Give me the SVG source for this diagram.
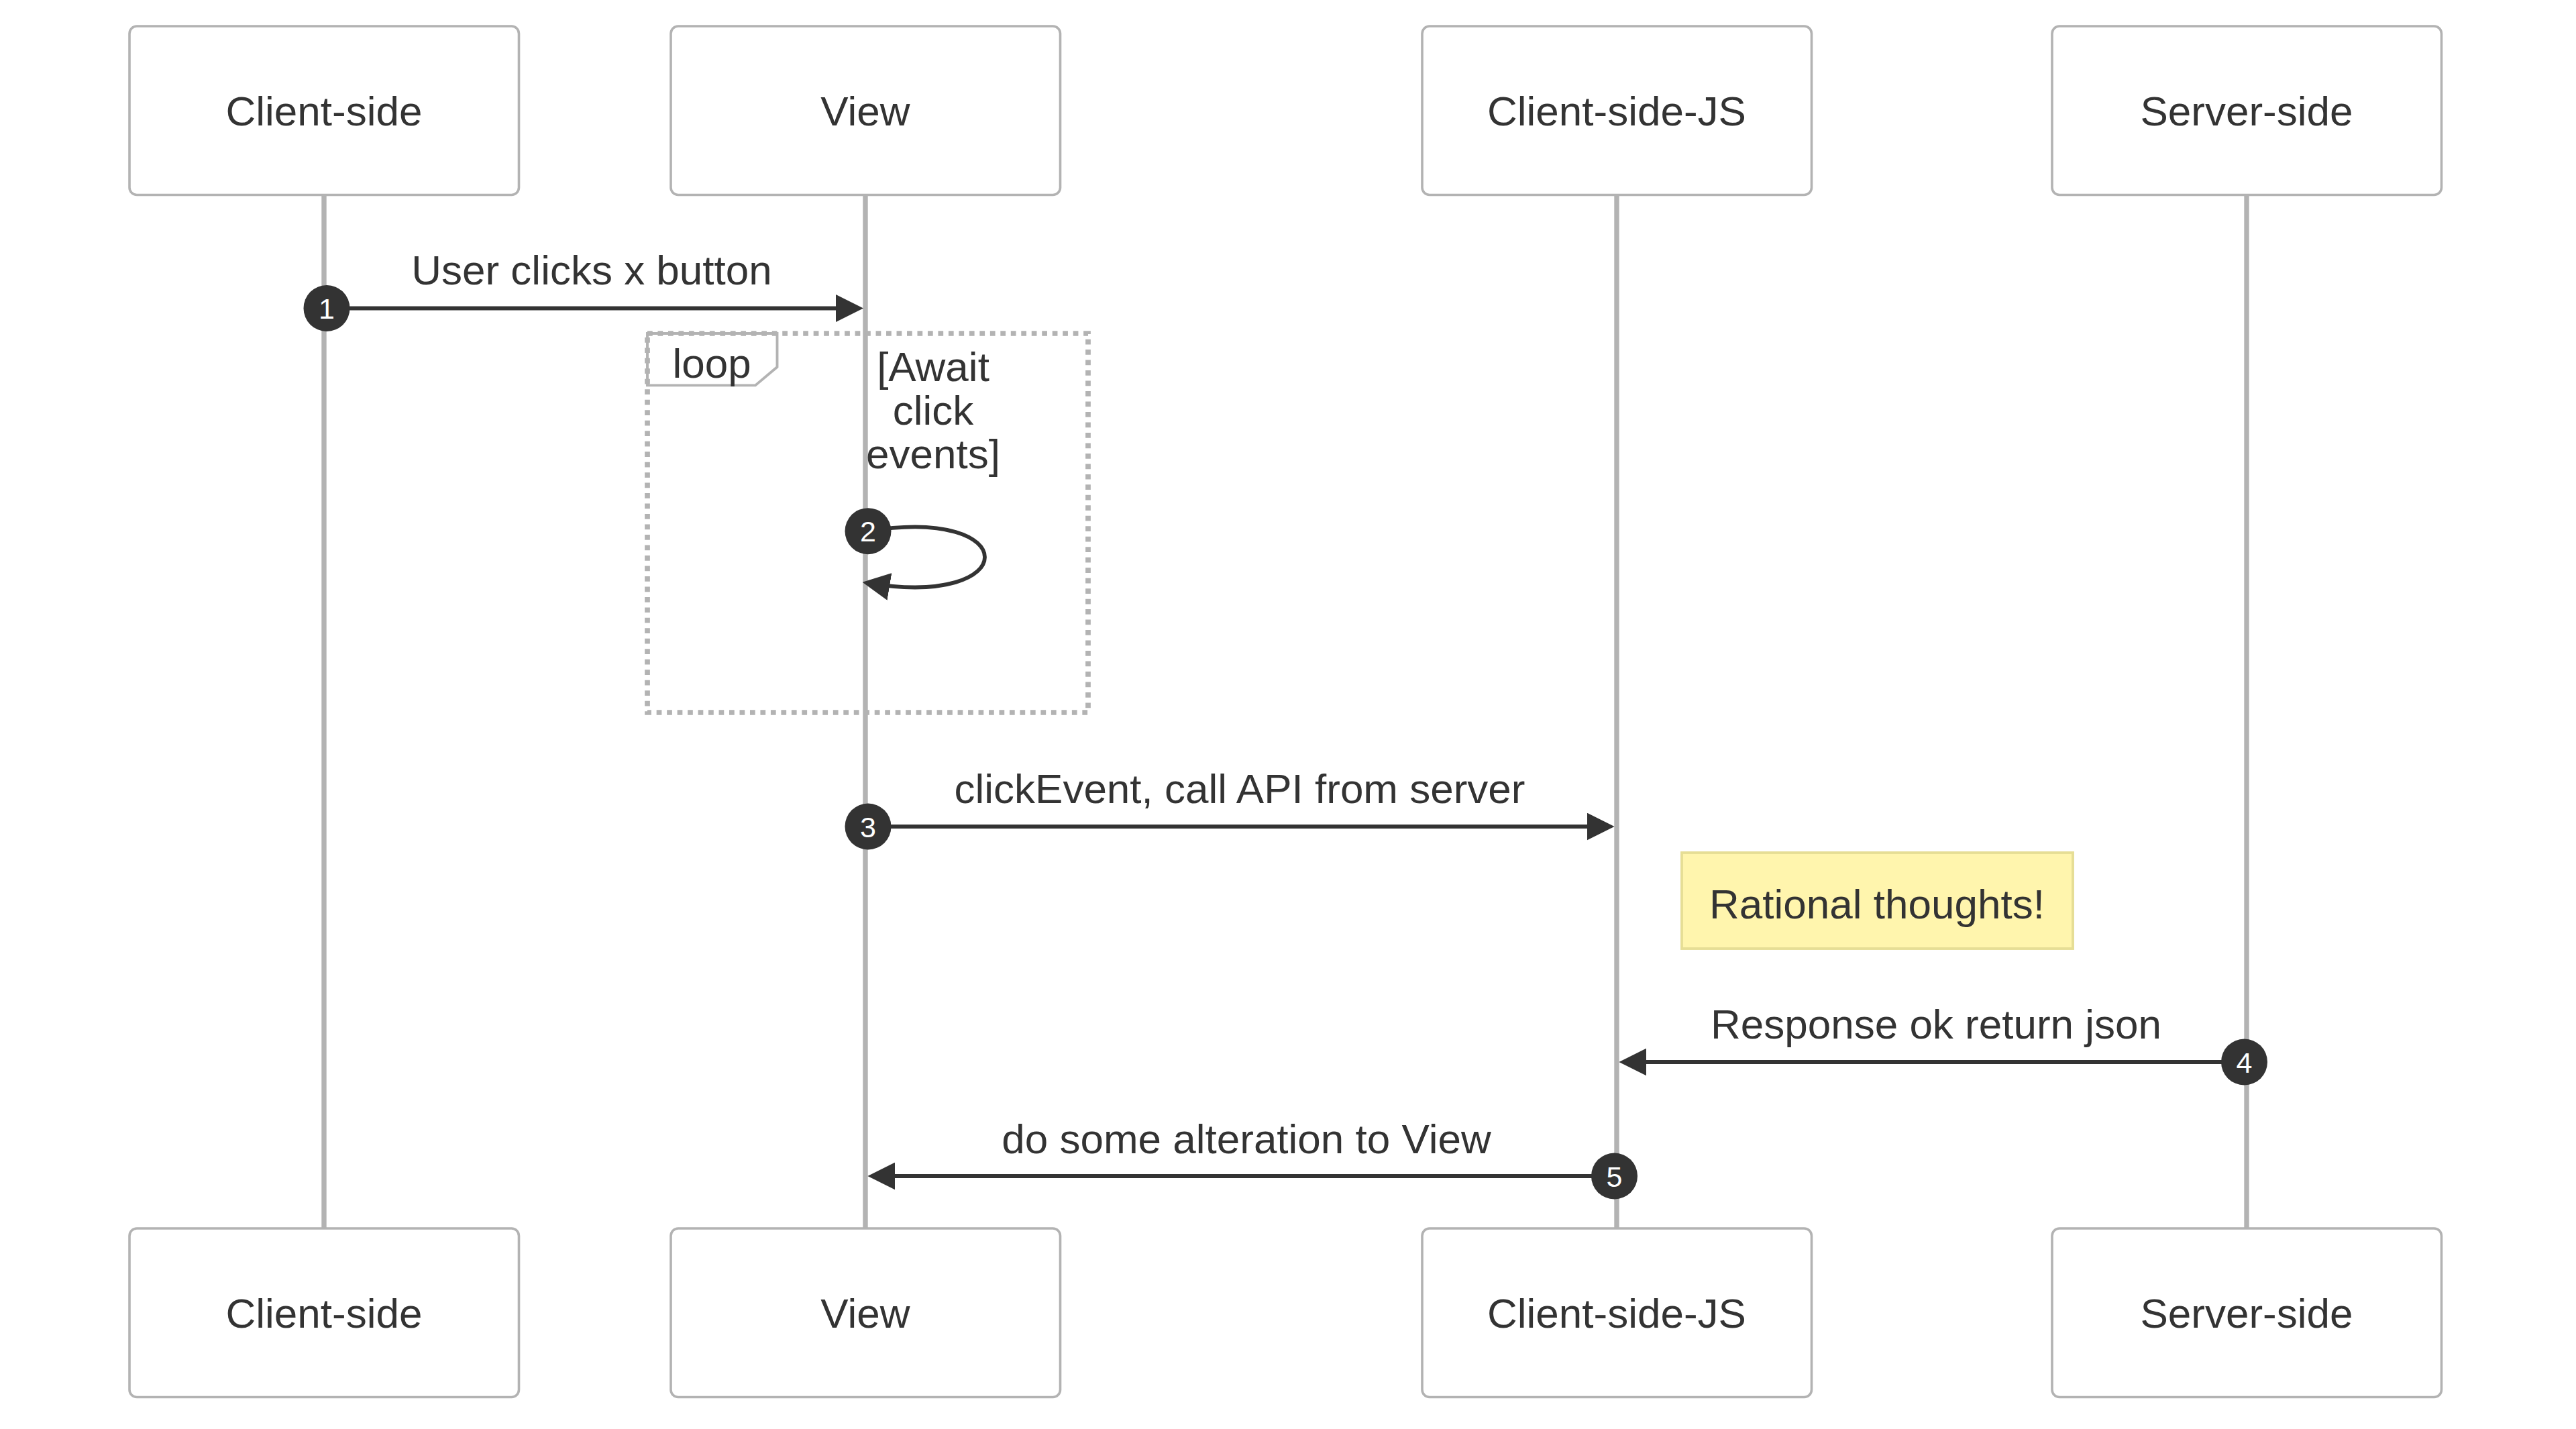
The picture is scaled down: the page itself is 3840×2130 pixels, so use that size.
<svg xmlns="http://www.w3.org/2000/svg" width="3840" height="2130" viewBox="0 0 3840 2130">
<style>
text { font-family: "Liberation Sans", Arial, sans-serif; fill: #333333; }
.actor { fill: #ffffff; stroke: #b3b3b3; stroke-width: 3.6; }
.lifeline { stroke: #b3b3b3; stroke-width: 7.4; fill: none; }
.lbl { font-size: 62px; text-anchor: middle; }
.msg { stroke: #333333; stroke-width: 5.8; fill: none; marker-end: url(#arrow); }
.seq { fill: #333333; }
.seqnum { fill: #ffffff; font-size: 43px; text-anchor: middle; }
.loopline { stroke: #b3b3b3; stroke-width: 7.74; stroke-dasharray: 7.74 7.74; fill: none; }
.labelbox { fill: #ffffff; stroke: #b3b3b3; stroke-width: 3.9; }
.note { fill: #fff5ad; stroke: #e6de95; stroke-width: 3.9; }
</style>
<defs>
<marker id="arrow" markerUnits="userSpaceOnUse" viewBox="0 0 10 10" refX="7.9" refY="5" markerWidth="41" markerHeight="41" orient="auto">
<path d="M0,0 L10,5 L0,10 z" fill="#333333"/>
</marker>
</defs>
<rect width="3840" height="2130" fill="#ffffff"/>

<g id="lifelines">
<line class="lifeline" x1="483" y1="290" x2="483" y2="1831"/>
<line class="lifeline" x1="1290" y1="290" x2="1290" y2="1831"/>
<line class="lifeline" x1="2410" y1="290" x2="2410" y2="1831"/>
<line class="lifeline" x1="3349" y1="290" x2="3349" y2="1831"/>
</g>

<g id="actor-client-side-top">
<rect class="actor" x="193" y="39" width="580.5" height="251.5" rx="11" ry="11"/>
<text class="lbl" x="483" y="187">Client-side</text>
</g>
<g id="actor-view-top">
<rect class="actor" x="1000" y="39" width="580.5" height="251.5" rx="11" ry="11"/>
<text class="lbl" x="1290" y="187">View</text>
</g>
<g id="actor-client-side-js-top">
<rect class="actor" x="2120" y="39" width="580.5" height="251.5" rx="11" ry="11"/>
<text class="lbl" x="2410" y="187">Client-side-JS</text>
</g>
<g id="actor-server-side-top">
<rect class="actor" x="3059" y="39" width="580.5" height="251.5" rx="11" ry="11"/>
<text class="lbl" x="3349" y="187">Server-side</text>
</g>

<g id="actor-client-side-bottom">
<rect class="actor" x="193" y="1831" width="580.5" height="251.5" rx="11" ry="11"/>
<text class="lbl" x="483" y="1979">Client-side</text>
</g>
<g id="actor-view-bottom">
<rect class="actor" x="1000" y="1831" width="580.5" height="251.5" rx="11" ry="11"/>
<text class="lbl" x="1290" y="1979">View</text>
</g>
<g id="actor-client-side-js-bottom">
<rect class="actor" x="2120" y="1831" width="580.5" height="251.5" rx="11" ry="11"/>
<text class="lbl" x="2410" y="1979">Client-side-JS</text>
</g>
<g id="actor-server-side-bottom">
<rect class="actor" x="3059" y="1831" width="580.5" height="251.5" rx="11" ry="11"/>
<text class="lbl" x="3349" y="1979">Server-side</text>
</g>

<g id="loop">
<polygon class="labelbox" points="965,497 1158.5,497 1158.5,547 1126,574.4 965,574.4"/>
<rect class="loopline" x="965" y="497" width="657" height="565"/>
<text class="lbl" x="1061" y="563">loop</text>
<text class="lbl" x="1391" y="568">[Await</text>
<text class="lbl" x="1391" y="633">click</text>
<text class="lbl" x="1391" y="698">events]</text>
</g>

<g id="connectors">
<line class="msg" x1="487" y1="459.5" x2="1278.4" y2="459.5"/>
<path class="msg" d="M1294,791.7 C1526,753 1526,907.8 1294,869.1"/>
<line class="msg" x1="1294" y1="1232" x2="2398" y2="1232"/>
<line class="msg" x1="3345.5" y1="1583" x2="2422" y2="1583"/>
<line class="msg" x1="2406.5" y1="1753" x2="1302" y2="1753"/>
<text class="lbl" x="882" y="424">User clicks x button</text>
<text class="lbl" x="1848" y="1197">clickEvent, call API from server</text>
<text class="lbl" x="2886" y="1548">Response ok return json</text>
<text class="lbl" x="1858" y="1719">do some alteration to View</text>
</g>

<g id="sequence-numbers">
<circle class="seq" cx="487" cy="459.5" r="34.5"/>
<text class="seqnum" x="487" y="475">1</text>
<circle class="seq" cx="1294" cy="791.7" r="34.5"/>
<text class="seqnum" x="1294" y="807">2</text>
<circle class="seq" cx="1294" cy="1232" r="34.5"/>
<text class="seqnum" x="1294" y="1247.5">3</text>
<circle class="seq" cx="3345.5" cy="1583" r="34.5"/>
<text class="seqnum" x="3345.5" y="1598.5">4</text>
<circle class="seq" cx="2406.5" cy="1753" r="34.5"/>
<text class="seqnum" x="2406.5" y="1768.5">5</text>
</g>

<g id="note-rational-thoughts">
<rect class="note" x="2507" y="1271" width="583" height="143"/>
<text class="lbl" x="2798" y="1369">Rational thoughts!</text>
</g>
</svg>
